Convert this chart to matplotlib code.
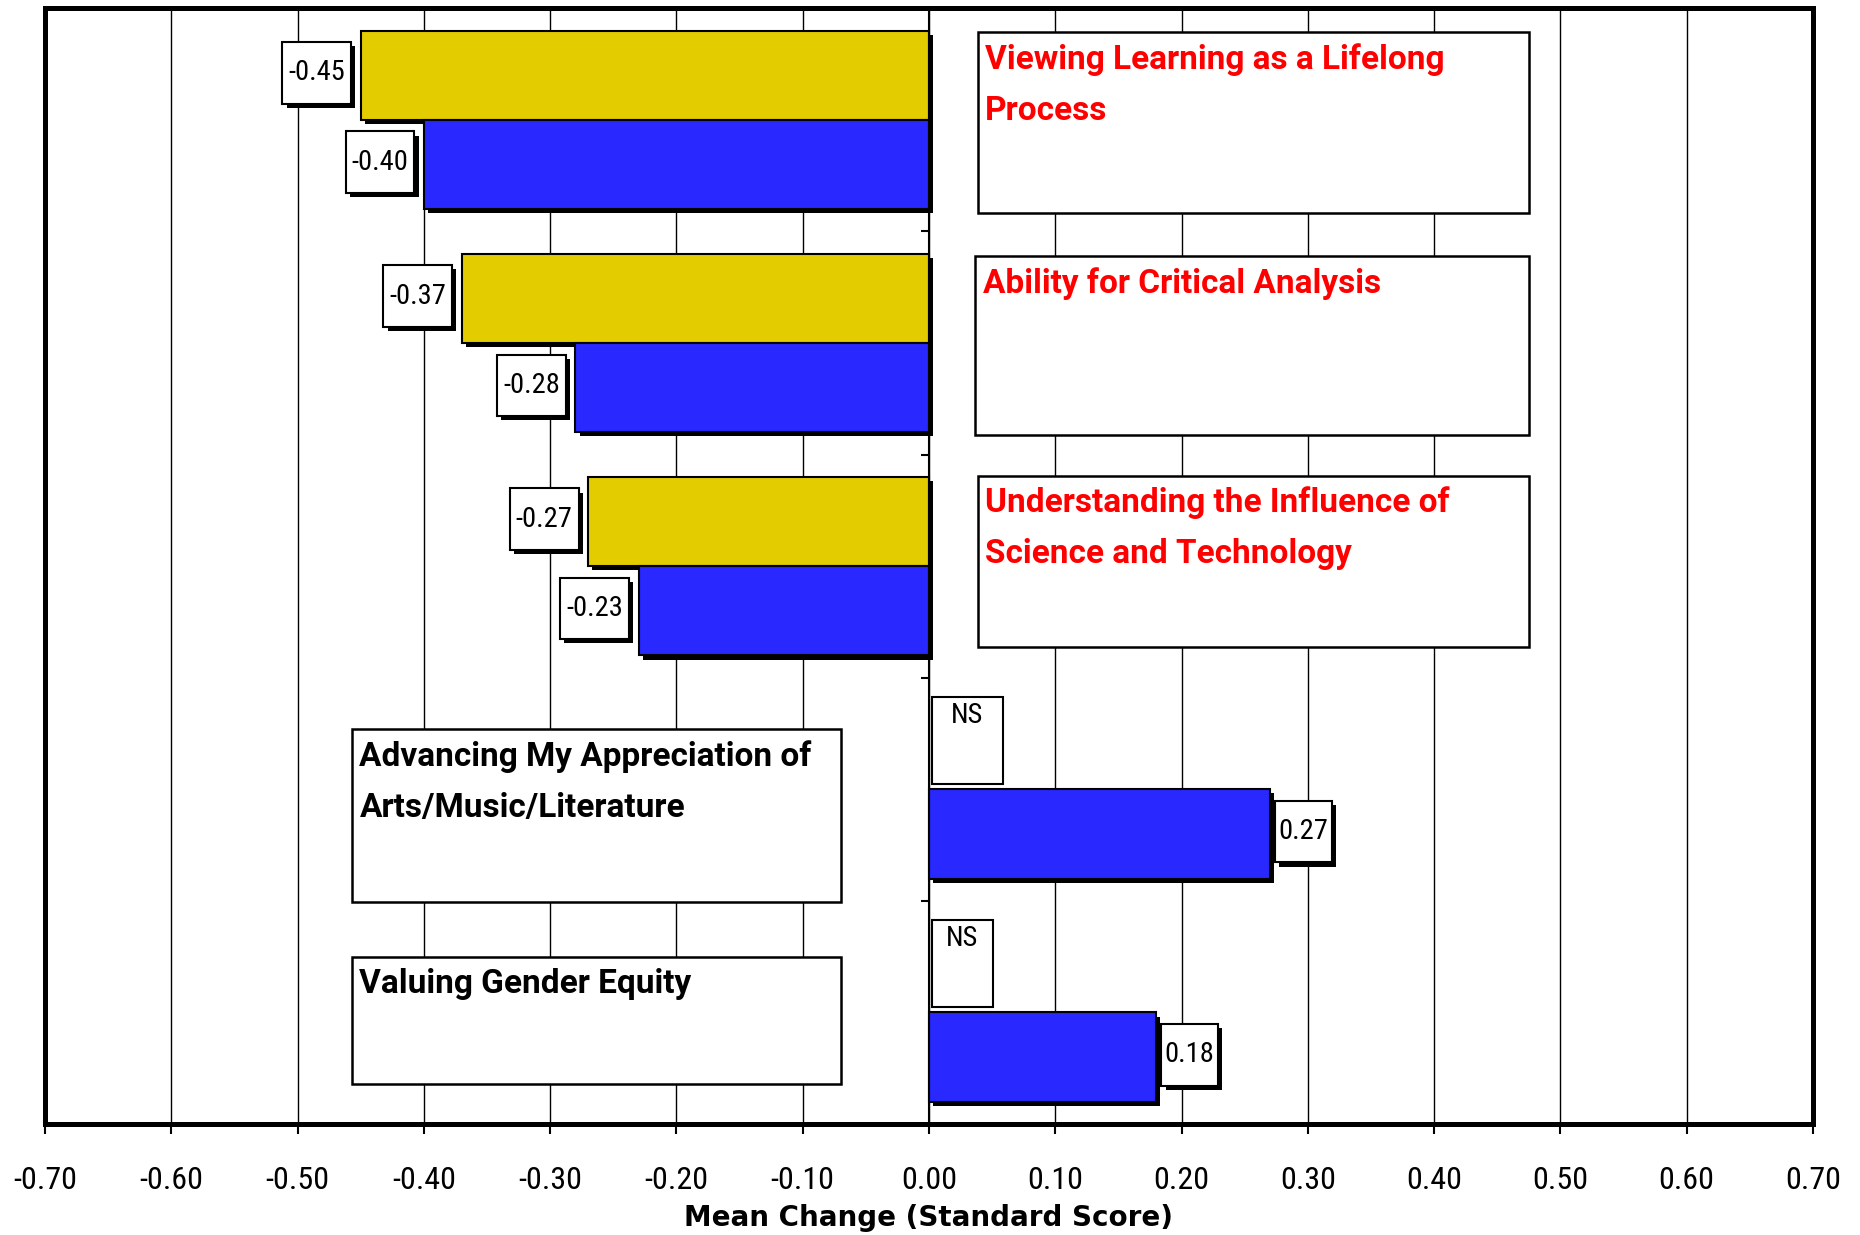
import numpy as np
import matplotlib
matplotlib.use('Agg')
import matplotlib.pyplot as plt
import matplotlib.patheffects as pe
from matplotlib.patches import Rectangle

# data
categories = ['Viewing Learning as a Lifelong\nProcess',
              'Ability for Critical Analysis',
              'Understanding the Influence of\nScience and Technology',
              'Advancing My Appreciation of\nArts/Music/Literature',
              'Valuing Gender Equity']
cat_colors = ['red', 'red', 'red', 'black', 'black']
yellow_vals = [-0.45, -0.37, -0.27, np.nan, np.nan]   # nan = NS
blue_vals = [-0.40, -0.28, -0.23, 0.27, 0.18]
xticks = np.round(np.arange(-0.7, 0.71, 0.1), 2)
xticklabels = ['%.2f' % (t + 0.0) for t in xticks]

# layout of the category boxes (x0, x1, y0, y1) in data units
cat_boxes = [(0.0385, 0.475, -0.394, 0.419),
             (0.0366, 0.475, 0.611, 1.413),
             (0.0385, 0.475, 1.594, 2.364),
             (-0.457, -0.0695, 2.731, 3.506),
             (-0.457, -0.0695, 3.751, 4.319)]

YELLOW = '#E3CC00'
BLUE = '#2828FF'
NARROW = ['Roboto Condensed', 'DejaVu Sans']
WIDE = ['Roboto', 'DejaVu Sans']

plt.rcParams['font.family'] = NARROW

fig = plt.figure(figsize=(18.6, 12.35), dpi=100)
ax = fig.add_axes([0.0242, 0.0899, 0.9505, 0.9034])

shadow = [pe.SimplePatchShadow(offset=(3, -3), shadow_rgbFace='black', alpha=1.0), pe.Normal()]

y = np.arange(len(categories))
h = 0.4
ybar = ax.barh(y - 0.2, yellow_vals, height=h, color=YELLOW, edgecolor='black', linewidth=1.5, zorder=3)
bbar = ax.barh(y + 0.2, blue_vals, height=h, color=BLUE, edgecolor='black', linewidth=1.5, zorder=3)
for b in list(ybar) + list(bbar):
    b.set_path_effects(shadow)

def value_box(v, yc):
    txt = '%.2f' % v
    w = 0.0545 if v < 0 else 0.045
    x0 = v - 0.0075 - w if v < 0 else v + 0.004
    r = Rectangle((x0, yc - 0.01 - 0.138), w, 0.276, facecolor='white', edgecolor='black',
                  linewidth=1.5, zorder=4)
    r.set_path_effects(shadow)
    ax.add_patch(r)
    ax.text(x0 + w / 2, yc - 0.01, txt, ha='center', va='center', fontsize=20.5, zorder=5)

for i in range(len(categories)):
    if np.isnan(yellow_vals[i]):
        w = 0.057 if i == 3 else 0.049
        y0 = y[i] - 0.2 - 0.215
        r = Rectangle((0.002, y0), w, 0.39, facecolor='white', edgecolor='black',
                      linewidth=1.5, zorder=4)
        ax.add_patch(r)
        ax.text(0.002 + w / 2, y0 + 0.085, 'NS', ha='center', va='center', fontsize=20.5, zorder=5)
    else:
        value_box(yellow_vals[i], y[i] - 0.2)
    value_box(blue_vals[i], y[i] + 0.2)

# category boxes
for (x0, x1, y0, y1), label, c in zip(cat_boxes, categories, cat_colors):
    r = Rectangle((x0, y0), x1 - x0, y1 - y0, facecolor='white', edgecolor='black',
                  linewidth=1.8, zorder=4)
    ax.add_patch(r)
    ax.text(x0 + 0.006, y0 + 0.05, label, ha='left', va='top', color=c,
            fontsize=24, fontweight='bold', family=WIDE, linespacing=1.75, zorder=5)

ax.set_xlim(-0.7, 0.7)
ax.set_ylim(len(categories) - 0.5, -0.5)
ax.set_xticks(xticks)
ax.set_xticklabels(xticklabels, fontsize=23)
ax.tick_params(axis='x', direction='out', length=7, width=1.5, pad=23)
ax.xaxis.grid(True, color='black', linewidth=1.0, zorder=0)
ax.set_axisbelow(True)

# y axis at zero with ticks between the groups
ax.spines['left'].set_position(('data', 0))
ax.spines['left'].set_linewidth(1.5)
ax.spines['left'].set_zorder(3.5)
ax.set_yticks(np.arange(0.5, len(categories) - 0.5, 1.0))
ax.set_yticklabels([])
ax.tick_params(axis='y', direction='out', length=6, width=1.5)
for s in ['top', 'right', 'bottom']:
    ax.spines[s].set_visible(False)
ax.add_patch(Rectangle((0, 0), 1, 1, transform=ax.transAxes, fill=False,
                       edgecolor='black', linewidth=3.6, clip_on=False, zorder=10))

ax.set_xlabel('Mean Change (Standard Score)', fontsize=20, fontweight='bold',
              family='DejaVu Sans', labelpad=7)

fig.savefig('out.png', dpi=100)
